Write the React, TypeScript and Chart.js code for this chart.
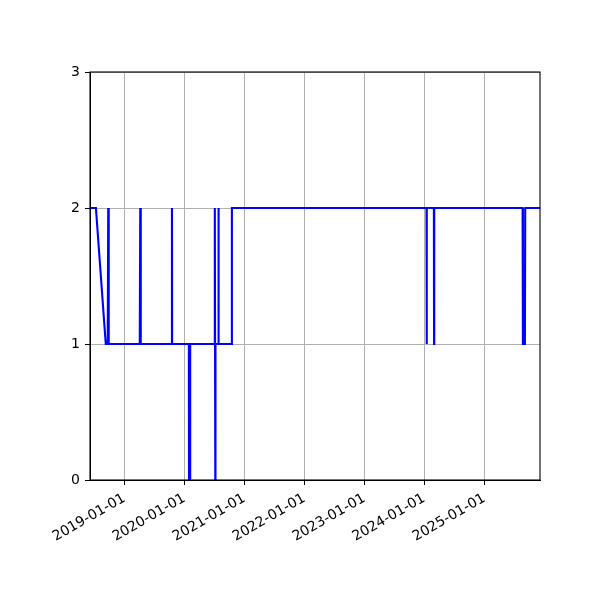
import React, { useEffect, useRef } from 'react';
import { Chart, registerables } from 'chart.js';

Chart.register(...registerables);

// observation dates and the level recorded on each
const obsDates = [
  '2018-06-06', '2018-07-12', '2018-09-10', '2018-09-22', '2018-09-25', '2018-09-28',
  '2019-04-05', '2019-04-08', '2019-04-11', '2019-10-17', '2019-10-18', '2019-10-19',
  '2020-01-29', '2020-01-30', '2020-02-05', '2020-02-06', '2020-07-03', '2020-07-05',
  '2020-07-08', '2020-07-09', '2020-07-25', '2020-07-27', '2020-07-29', '2020-10-15',
  '2020-10-17', '2024-01-15', '2024-01-16', '2024-01-17', '2024-02-29', '2024-03-01',
  '2024-03-02', '2025-08-22', '2025-08-24', '2025-09-05', '2025-09-07', '2025-12-06',
];
const obsValues = [
  2, 2, 1, 1, 2, 1,
  1, 2, 1, 1, 2, 1,
  1, 0, 0, 1, 1, 2,
  0, 1, 1, 2, 1, 1,
  2, 2, 1, 2, 2, 1,
  2, 2, 1, 1, 2, 2,
];

const xTickLabels = [
  '2019-01-01', '2020-01-01', '2021-01-01', '2022-01-01',
  '2023-01-01', '2024-01-01', '2025-01-01',
];
const yMin = 0;
const yMax = 3;

const toMs = (d: string): number => new Date(d + 'T00:00:00Z').getTime();

const FONT = { family: '"DejaVu Sans", sans-serif', size: 14 };
const GRID = '#b0b0b0';

// matplotlib draws all four spines on top of the data
const spinesPlugin = {
  id: 'spines',
  beforeDraw(chart: Chart) {
    const { ctx, width, height } = chart;
    ctx.save();
    ctx.fillStyle = '#ffffff';
    ctx.fillRect(0, 0, width, height);
    ctx.restore();
  },
  afterDraw(chart: Chart) {
    const { ctx, chartArea: a } = chart;
    ctx.save();
    ctx.strokeStyle = '#000000';
    ctx.lineWidth = 1.1;
    ctx.strokeRect(a.left, a.top, a.right - a.left, a.bottom - a.top);
    ctx.restore();
  },
};

const App: React.FC = () => {
  const canvasRef = useRef<HTMLCanvasElement>(null);

  useEffect(() => {
    if (!canvasRef.current) return;
    const points = obsDates.map((d, i) => ({ x: toMs(d), y: obsValues[i] }));
    const tickValues = xTickLabels.map(toMs);

    const chart = new Chart(canvasRef.current, {
      type: 'line',
      data: {
        datasets: [{
          data: points,
          borderColor: '#0000ff',
          borderWidth: 2.1,
          pointRadius: 0,
          tension: 0,
          fill: false,
          clip: 0,
        }],
      },
      options: {
        animation: false,
        responsive: false,
        events: [],
        layout: { padding: { left: 0, top: 72, right: 60, bottom: 0 } },
        plugins: {
          legend: { display: false },
          tooltip: { enabled: false },
        },
        scales: {
          x: {
            type: 'linear',
            min: points[0].x,
            max: points[points.length - 1].x,
            afterBuildTicks: (scale: any) => {
              scale.ticks = tickValues.map((value) => ({ value }));
            },
            afterFit: (scale: any) => { scale.height = 120; },
            ticks: {
              autoSkip: false,
              minRotation: 30,
              maxRotation: 30,
              padding: 5,
              color: '#000000',
              font: FONT,
              callback: (value: any) => {
                const i = tickValues.indexOf(Number(value));
                return i >= 0 ? xTickLabels[i] : '';
              },
            },
            grid: {
              color: GRID,
              lineWidth: 1,
              tickColor: '#000000',
              tickWidth: 1,
              tickLength: 5,
            },
            border: { color: '#000000', width: 1 },
          },
          y: {
            type: 'linear',
            min: yMin,
            max: yMax,
            afterFit: (scale: any) => { scale.width = 90; },
            ticks: {
              stepSize: 1,
              padding: 5,
              color: '#000000',
              font: FONT,
            },
            grid: {
              color: GRID,
              lineWidth: 1,
              tickColor: '#000000',
              tickWidth: 1,
              tickLength: 5,
            },
            border: { color: '#000000', width: 1 },
          },
        },
      },
      plugins: [spinesPlugin],
    });

    return () => chart.destroy();
  }, []);

  return (
    <div style={{ position: 'absolute', left: 0, top: 0, width: 600, height: 600, background: '#fff' }}>
      <canvas ref={canvasRef} width={600} height={600} style={{ width: 600, height: 600 }} />
    </div>
  );
};

export default App;
